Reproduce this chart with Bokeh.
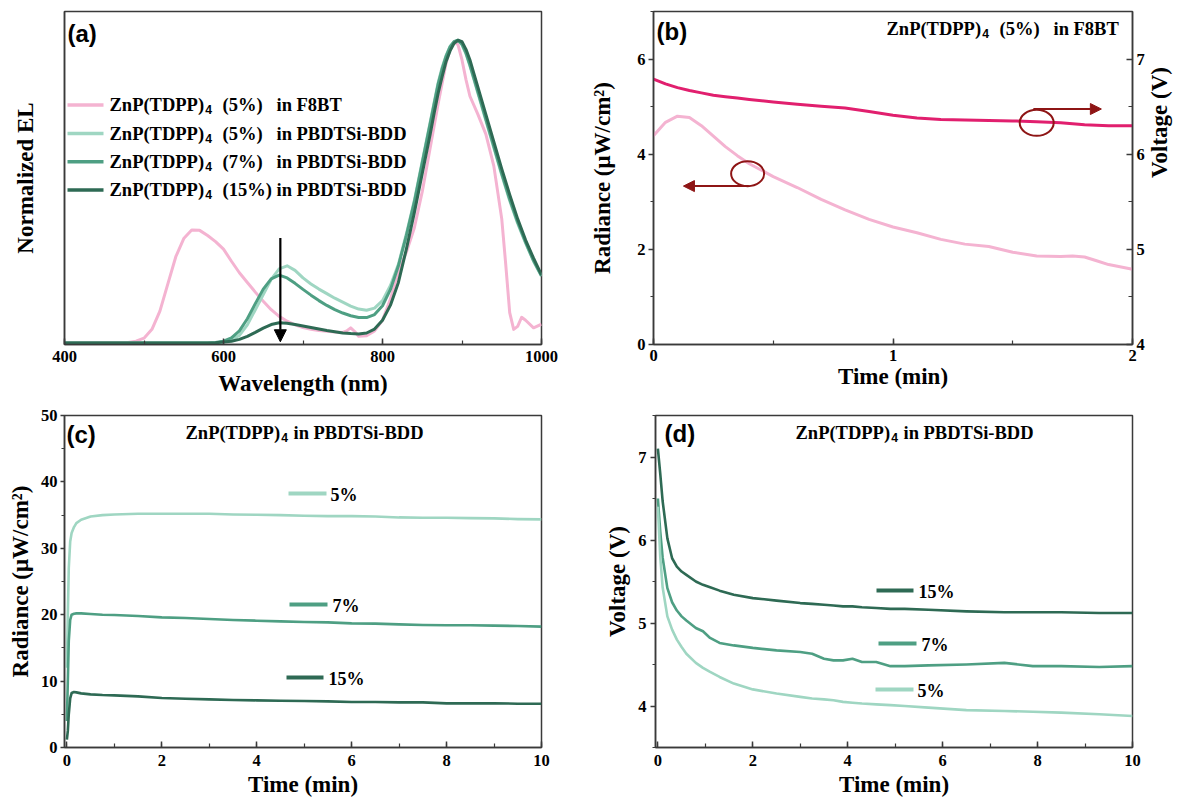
import math
from bokeh.plotting import figure
from bokeh.layouts import row, column
from bokeh.models import (Range1d, LinearAxis, SingleIntervalTicker, FixedTicker,
                          Label, Arrow, NormalHead)
from bokeh.embed import file_html
from bokeh.resources import INLINE

SERIF = "Liberation Serif"
SANS = "Liberation Sans"
FRAME = "#3a3a3a"

PINK = "#F4B3D1"
MAGENTA = "#E11F6E"
MINT = "#9FD6C2"
GREEN = "#4E9F83"
DARK = "#2E6A54"
MAROON = "#8E1515"

# ---------------- (a) normalized EL spectra ----------------
wl_f8bt = [400, 480, 490, 500, 510, 520, 530, 540, 550, 560, 570, 580, 590, 600, 610, 620,
           630, 640, 650, 660, 670, 680, 690, 700, 710, 720, 730, 740, 750, 755, 760, 765,
           770, 780, 790, 800, 810, 820, 830, 840, 850, 860, 870, 880, 885, 890, 895, 900,
           905, 910, 920, 930, 940, 950, 955, 960, 965, 970, 975, 980, 990, 1000]
el_f8bt = [0, 0.002, 0.006, 0.016, 0.045, 0.105, 0.195, 0.285, 0.345, 0.373, 0.372, 0.355,
           0.335, 0.31, 0.27, 0.232, 0.2, 0.168, 0.138, 0.11, 0.088, 0.072, 0.06, 0.051,
           0.045, 0.041, 0.039, 0.036, 0.035, 0.04, 0.05, 0.038, 0.022, 0.024, 0.04, 0.075,
           0.145, 0.235, 0.3, 0.38, 0.5, 0.645, 0.79, 0.925, 0.97, 0.995, 0.985, 0.935,
           0.87, 0.815, 0.755, 0.69, 0.585, 0.41, 0.26, 0.1, 0.045, 0.055, 0.085, 0.075,
           0.05, 0.062]

wl_bdd = [400, 500, 580, 590,
          600, 610, 620, 630, 640, 650, 660, 670, 680, 690, 700, 710, 720, 730, 740, 750,
          760, 770, 780, 790, 800, 810, 820, 830, 840, 850,
          860, 865, 870, 875, 880, 885, 890, 895, 900, 905, 910, 915, 920,
          930, 940, 950, 960, 970, 980, 990, 1000]
el_bdd_5 = [0, 0, 0, 0.001,
            0.003, 0.01, 0.025, 0.06, 0.11, 0.16, 0.21, 0.245, 0.255, 0.24, 0.215, 0.195,
            0.178, 0.163, 0.148, 0.135, 0.122, 0.112, 0.108, 0.115, 0.14, 0.19, 0.26, 0.36,
            0.47, 0.6,
            0.73, 0.795, 0.86, 0.91, 0.95, 0.98, 0.995, 1.0, 0.985, 0.955, 0.915, 0.87, 0.825,
            0.735, 0.645, 0.555, 0.47, 0.395, 0.33, 0.27, 0.22]
el_bdd_7 = [0, 0, 0, 0.002,
            0.006, 0.017, 0.04, 0.08, 0.13, 0.178, 0.212, 0.224, 0.215, 0.197, 0.177, 0.158,
            0.14, 0.124, 0.11, 0.099, 0.09, 0.084, 0.084, 0.094, 0.123, 0.177, 0.255, 0.355,
            0.465, 0.595,
            0.725, 0.79, 0.855, 0.905, 0.947, 0.978, 0.995, 1.0, 0.987, 0.958, 0.918, 0.874, 0.83,
            0.74, 0.65, 0.56, 0.475, 0.4, 0.333, 0.272, 0.222]
el_bdd_15 = [0, 0, 0, 0.001,
             0.003, 0.006, 0.012, 0.022, 0.035, 0.049, 0.061, 0.067, 0.065, 0.061, 0.056, 0.051,
             0.046, 0.041, 0.037, 0.033, 0.031, 0.03, 0.033, 0.046, 0.075, 0.125, 0.2, 0.31,
             0.43, 0.56,
             0.69, 0.76, 0.825, 0.88, 0.93, 0.965, 0.99, 1.0, 0.995, 0.97, 0.935, 0.89, 0.845,
             0.755, 0.665, 0.575, 0.49, 0.41, 0.34, 0.28, 0.225]

# ---------------- (b) F8BT device: radiance and voltage vs time ----------------
t_b = [0, 0.05, 0.1, 0.15, 0.2, 0.25, 0.3, 0.35, 0.4, 0.5, 0.6, 0.7, 0.8, 0.9, 1.0, 1.1,
       1.2, 1.3, 1.4, 1.5, 1.6, 1.7, 1.75, 1.8, 1.85, 1.9, 2.0]
rad_b = [4.39, 4.67, 4.8, 4.77, 4.6, 4.38, 4.16, 3.97, 3.8, 3.53, 3.3, 3.05, 2.83, 2.63,
         2.47, 2.35, 2.21, 2.11, 2.06, 1.94, 1.86, 1.85, 1.86, 1.84, 1.76, 1.68, 1.58]
volt_b = [6.79, 6.74, 6.70, 6.67, 6.645, 6.62, 6.605, 6.59, 6.575, 6.55, 6.525, 6.505,
          6.485, 6.45, 6.41, 6.38, 6.365, 6.36, 6.355, 6.35, 6.34, 6.33, 6.32, 6.31, 6.305,
          6.30, 6.30]

# ---------------- (c) PBDTSi-BDD devices: radiance vs time ----------------
t_c = [0, 0.02, 0.04, 0.07, 0.1, 0.15, 0.2, 0.3, 0.5, 0.75, 1.0, 1.5, 2.0, 2.5, 3.0, 3.5,
       4.0, 4.5, 5.0, 5.5, 6.0, 6.5, 7.0, 7.5, 8.0, 8.5, 9.0, 9.5, 10.0]
rad_c_5 = [12, 20, 27, 31, 32.3, 33.2, 33.8, 34.3, 34.8, 35.0, 35.1, 35.2, 35.2, 35.2, 35.2,
           35.1, 35.05, 35.0, 34.9, 34.85, 34.85, 34.8, 34.65, 34.6, 34.6, 34.55, 34.5, 34.4, 34.35]
rad_c_7 = [4, 10, 16, 19.2, 20.0, 20.15, 20.2, 20.2, 20.1, 20.0, 19.95, 19.8, 19.6, 19.5,
           19.35, 19.2, 19.1, 19.0, 18.9, 18.85, 18.7, 18.65, 18.55, 18.45, 18.4, 18.4, 18.35,
           18.3, 18.2]
rad_c_15 = [1.2, 2.5, 5, 7.4, 8.2, 8.35, 8.3, 8.15, 8.0, 7.9, 7.85, 7.7, 7.45, 7.35, 7.25,
            7.15, 7.1, 7.05, 7.0, 6.95, 6.85, 6.85, 6.8, 6.8, 6.65, 6.65, 6.65, 6.6, 6.6]

# ---------------- (d) PBDTSi-BDD devices: voltage vs time ----------------
t_d = [0, 0.05, 0.1, 0.2, 0.3, 0.4, 0.5, 0.6, 0.8, 0.95, 1.1, 1.3, 1.6, 2.0, 2.5, 3.0,
       3.25, 3.5, 3.7, 3.9, 4.1, 4.3, 4.6, 4.9, 5.2, 5.7, 6.5, 7.3, 7.9, 8.5, 9.3, 10.0]
volt_d_15 = [7.1, 6.8, 6.47, 6.02, 5.78, 5.68, 5.62, 5.58, 5.5, 5.46, 5.43, 5.39, 5.34, 5.3,
             5.27, 5.24, 5.23, 5.22, 5.21, 5.2, 5.2, 5.19, 5.18, 5.17, 5.17, 5.16, 5.14, 5.13,
             5.13, 5.13, 5.12, 5.12]
volt_d_7 = [6.5, 6.1, 5.79, 5.42, 5.25, 5.15, 5.08, 5.03, 4.94, 4.9, 4.82, 4.76, 4.73, 4.7,
            4.67, 4.65, 4.63, 4.57, 4.55, 4.55, 4.57, 4.53, 4.53, 4.48, 4.48, 4.49, 4.5, 4.52,
            4.48, 4.48, 4.47, 4.48]
volt_d_5 = [6.4, 5.8, 5.43, 5.08, 4.92, 4.8, 4.71, 4.63, 4.52, 4.46, 4.41, 4.35, 4.27, 4.2,
            4.15, 4.11, 4.09, 4.08, 4.07, 4.05, 4.04, 4.03, 4.02, 4.01, 4.0, 3.98, 3.95, 3.94,
            3.93, 3.92, 3.9, 3.88]

host_labels = ["in F8BT", "in PBDTSi-BDD", "in PBDTSi-BDD", "in PBDTSi-BDD"]
conc_labels = ["(5%)", "(5%)", "(7%)", "(15%)"]
short_labels = ["5%", "7%", "15%"]


class Frame:
    """Maps page pixels onto a panel's data coordinates (for annotation placement)."""

    def __init__(self, left, top, w, h, xr, yr):
        self.left, self.top, self.w, self.h = left, top, w, h
        self.x0, self.x1 = xr
        self.y0, self.y1 = yr

    def x(self, px):
        return self.x0 + (px - self.left) / self.w * (self.x1 - self.x0)

    def y(self, py):
        return self.y0 + (self.top + self.h - py) / self.h * (self.y1 - self.y0)


def panel(xr, yr, fw, fh, left, right, top, bottom):
    p = figure(title=None, x_range=Range1d(*xr), y_range=Range1d(*yr),
               frame_width=fw, frame_height=fh,
               min_border_left=left, min_border_right=right,
               min_border_top=top, min_border_bottom=bottom,
               output_backend="svg", toolbar_location=None,
               background_fill_color="white", border_fill_color="white")
    p.grid.visible = False
    p.outline_line_color = FRAME
    p.outline_line_width = 1.5
    p.outline_line_alpha = 1.0
    return p


def style_axis(ax, ticker, label, tick_in, tick_out, minor_in, minor_out,
               label_standoff, title_standoff):
    ax.ticker = ticker
    ax.axis_label = label
    ax.major_tick_in = tick_in
    ax.major_tick_out = tick_out
    ax.minor_tick_in = minor_in
    ax.minor_tick_out = minor_out
    ax.major_label_standoff = label_standoff
    ax.axis_label_standoff = title_standoff
    ax.axis_line_color = FRAME
    ax.axis_line_width = 1.5
    ax.major_tick_line_color = FRAME
    ax.major_tick_line_width = 1.5
    ax.minor_tick_line_color = FRAME
    ax.minor_tick_line_width = 1.2
    ax.major_label_text_font = SERIF
    ax.major_label_text_font_style = "bold"
    ax.major_label_text_font_size = "16.5px"
    ax.major_label_text_color = "black"
    ax.axis_label_text_font = SERIF
    ax.axis_label_text_font_style = "bold"
    ax.axis_label_text_font_size = "23px"
    ax.axis_label_text_color = "black"


def text(p, x, y, s, size, font=SERIF, dx=0, dy=0, color="black"):
    p.add_layout(Label(x=x, y=y, x_offset=dx, y_offset=dy, text=s, text_font=font,
                       text_font_style="bold", text_font_size=f"{size}px",
                       text_align="left", text_baseline="middle", text_color=color))


def formula(p, x, y, size, parts):
    """ZnP(TDPP) with a sans-serif subscript 4, followed by parts at pixel offsets."""
    text(p, x, y, "ZnP(TDPP)", size)
    text(p, x, y, "4", round(size * 0.66, 1), font=SANS, dx=size * 5.17, dy=-size * 0.25)
    for s, dx in parts:
        text(p, x, y, s, size, dx=dx)


def panel_tag(p, x, y, s):
    text(p, x, y, s, 24, font=SANS)


# ================= panel (a) =================
XA, YA = (400, 1000), (-0.005, 1.095)
fa = Frame(64, 11, 477, 333, XA, YA)
pa = panel(XA, YA, 477, 333, 64, 20, 11, 58)
style_axis(pa.xaxis[0], SingleIntervalTicker(interval=200, num_minor_ticks=2),
           "Wavelength (nm)", 6, 0, 4, 0, 6, 6)
style_axis(pa.yaxis[0], FixedTicker(ticks=[]), "Normalized EL", 0, 0, 0, 0, 0, 27)

spectra = [(wl_f8bt, el_f8bt, PINK), (wl_bdd, el_bdd_5, MINT),
           (wl_bdd, el_bdd_7, GREEN), (wl_bdd, el_bdd_15, DARK)]
for xs, ys, c in spectra:
    pa.line(xs, ys, line_color=c, line_width=3, line_join="round")

pa.add_layout(Arrow(end=NormalHead(size=12, fill_color="black", line_color="black"),
                    x_start=671.5, y_start=0.347, x_end=671.5, y_end=0.004,
                    line_color="black", line_width=2.2))

panel_tag(pa, fa.x(67), fa.y(33), "(a)")
legend_rows = [104.5, 133, 161.3, 189.6]
for (xs, ys, c), py, conc, host in zip(spectra, legend_rows, conc_labels, host_labels):
    pa.line([fa.x(67), fa.x(103)], [fa.y(py), fa.y(py)], line_color=c, line_width=3.5)
    formula(pa, fa.x(109), fa.y(py), 18.5, [(conc, 113), (host, 167)])

# ================= panel (b) =================
XB, YB, VB = (0, 2), (0, 7), (4, 7.5)
fb = Frame(653, 11, 479, 333, XB, YB)
pb = panel(XB, YB, 479, 333, 92, 50, 11, 58)
pb.extra_y_ranges = {"volt": Range1d(*VB)}
style_axis(pb.xaxis[0], SingleIntervalTicker(interval=1, num_minor_ticks=2),
           "Time (min)", 6, 0, 4, 0, 5, 0)
style_axis(pb.yaxis[0], SingleIntervalTicker(interval=2, num_minor_ticks=2),
           "Radiance (μW/cm²)", 0, 5, 0, 3, 3, 19)
vaxis = LinearAxis(y_range_name="volt")
style_axis(vaxis, SingleIntervalTicker(interval=1, num_minor_ticks=2),
           "Voltage (V)", 6, 0, 4, 0, 4, 12)
vaxis.axis_label_orientation = math.pi / 2
pb.add_layout(vaxis, "right")

pb.line(t_b, rad_b, line_color=PINK, line_width=3, line_join="round")
pb.line(t_b, volt_b, line_color=MAGENTA, line_width=3, line_join="round", y_range_name="volt")

pb.ellipse(x=[0.393, 1.60], y=[3.59, 4.66], width=[33, 34], height=[25, 26],
           width_units="screen", height_units="screen",
           fill_color=None, line_color=MAROON, line_width=2)
pb.add_layout(Arrow(end=NormalHead(size=11, fill_color=MAROON, line_color=MAROON),
                    x_start=0.398, y_start=3.33, x_end=0.125, y_end=3.33,
                    line_color=MAROON, line_width=2))
pb.add_layout(Arrow(end=NormalHead(size=11, fill_color=MAROON, line_color=MAROON),
                    x_start=1.586, y_start=4.95, x_end=1.87, y_end=4.95,
                    line_color=MAROON, line_width=2))

panel_tag(pb, fb.x(656), fb.y(31), "(b)")
formula(pb, fb.x(886), fb.y(28), 18.5, [("(5%)", 113), ("in F8BT", 167)])

# ================= panel (c) =================
XC, YC = (-0.05, 10), (0, 50)
fc = Frame(64, 415, 477, 332, XC, YC)
pc = panel(XC, YC, 477, 332, 64, 20, 13, 54)
style_axis(pc.xaxis[0], SingleIntervalTicker(interval=2, num_minor_ticks=2),
           "Time (min)", 6, 0, 4, 0, 7, 3)
style_axis(pc.yaxis[0], SingleIntervalTicker(interval=10, num_minor_ticks=2),
           "Radiance (μW/cm²)", 0, 4, 0, 3, 3, 5)

series_c = [(rad_c_5, MINT), (rad_c_7, GREEN), (rad_c_15, DARK)]
for ys, c in series_c:
    pc.line(t_c, ys, line_color=c, line_width=2.6, line_join="round")

panel_tag(pc, fc.x(66), fc.y(434), "(c)")
formula(pc, fc.x(185), fc.y(432), 18.5, [("in PBDTSi-BDD", 108)])
key_c = [(288, 326, 493, 330), (289, 327, 604, 332), (286, 323, 677, 328)]
for (ys, c), (x0, x1, py, tx), lab in zip(series_c, key_c, short_labels):
    pc.line([fc.x(x0), fc.x(x1)], [fc.y(py), fc.y(py)], line_color=c, line_width=4)
    text(pc, fc.x(tx), fc.y(py + 1), lab, 18)

# ================= panel (d) =================
XD, YD = (-0.05, 10), (3.5, 7.5)
fd = Frame(655, 415, 477, 332, XD, YD)
pd_ = panel(XD, YD, 477, 332, 94, 50, 13, 54)
style_axis(pd_.xaxis[0], SingleIntervalTicker(interval=2, num_minor_ticks=2),
           "Time (min)", 6, 0, 4, 0, 7, 3)
style_axis(pd_.yaxis[0], SingleIntervalTicker(interval=1, num_minor_ticks=2),
           "Voltage (V)", 0, 5, 0, 3, 4, 5)

series_d = [(volt_d_15, DARK), (volt_d_7, GREEN), (volt_d_5, MINT)]
for ys, c in series_d:
    pd_.line(t_d, ys, line_color=c, line_width=2.6, line_join="round")

panel_tag(pd_, fd.x(664), fd.y(433), "(d)")
formula(pd_, fd.x(795), fd.y(432), 18.5, [("in PBDTSi-BDD", 108)])
key_d = [(876, 913, 590, 918), (878, 916, 643, 921), (875, 913, 689, 917)]
for (ys, c), (x0, x1, py, tx), lab in zip(series_d, key_d, ["15%", "7%", "5%"]):
    pd_.line([fd.x(x0), fd.x(x1)], [fd.y(py), fd.y(py)], line_color=c, line_width=4)
    text(pd_, fd.x(tx), fd.y(py + 1), lab, 18)

layout = column(row(pa, pb, spacing=0), row(pc, pd_, spacing=0), spacing=0)
open("out.html", "w").write(file_html(layout, INLINE))
